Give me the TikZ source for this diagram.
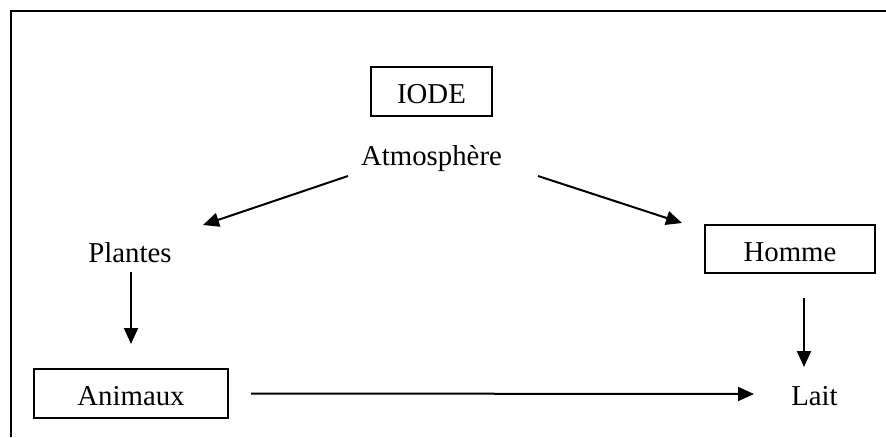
\documentclass[tikz,border=0pt]{standalone}
\usepackage{fontspec}
\setmainfont{Liberation Serif}
\usetikzlibrary{arrows.meta}
\begin{document}
\begin{tikzpicture}[x=1pt,y=-1pt,
  every node/.style={font=\fontsize{28.8}{34}\selectfont, inner sep=0pt},
  lbl/.style={anchor=base},
  boxed/.style={draw, line width=2pt, text height=31pt, text depth=7pt},
  arr/.style={line width=2pt, -{Triangle[length=16pt,width=14pt]}}]
\useasboundingbox (0,0) rectangle (886,437);
\draw[line width=2.6pt] (11,437) -- (11,11) -- (886,11);
% nodes
\node[boxed, minimum width=121pt, minimum height=49pt] (iode) at (431.5,91.5) {IODE};
\node[lbl] (atm) at (431.5,165) {Atmosphère};
\node[lbl] (plantes) at (130,262) {Plantes};
\node[boxed, minimum width=170pt, minimum height=48pt] (homme) at (790,249) {Homme};
\node[boxed, minimum width=194pt, minimum height=49pt] (animaux) at (131,393.5) {Animaux};
\node[lbl] (lait) at (814.5,405) {Lait};
% connectors
\draw[arr] ([shift={(-83.5,11)}]atm.base) -- ([shift={(73,-37)}]plantes.base);
\draw[arr] ([shift={(106.5,11)}]atm.base) -- ([shift={(-22,-1)}]homme.north west);
\draw[arr] ([shift={(1,10)}]plantes.base) -- ([shift={(0,-24)}]animaux.north);
\draw[arr] ([shift={(14,24)}]homme.south) -- ([shift={(-10.5,-38)}]lait.base);
\draw[arr] ([shift={(22,0)}]animaux.east) -- ([shift={(-60.5,-11)}]lait.base);
\end{tikzpicture}
\end{document}
